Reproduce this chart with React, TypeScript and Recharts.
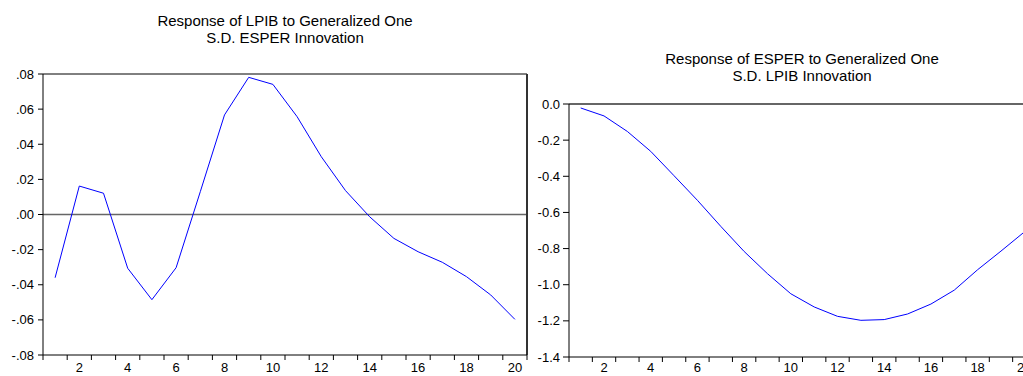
import { LineChart, Line, XAxis, YAxis, ReferenceLine } from "recharts";

// impulse response periods
const periods = [1, 2, 3, 4, 5, 6, 7, 8, 9, 10, 11, 12, 13, 14, 15, 16, 17, 18, 19, 20];

// Response of LPIB to generalized one S.D. ESPER innovation
const lpibResponse = [
  -0.036, 0.0162, 0.0121, -0.0306, -0.0485, -0.0303, 0.013, 0.0567, 0.0781, 0.0741,
  0.0557, 0.0329, 0.0136, -0.0013, -0.0136, -0.0212, -0.0272, -0.0354, -0.0458, -0.0597,
];

// Response of ESPER to generalized one S.D. LPIB innovation
const esperResponse = [
  -0.022, -0.066, -0.152, -0.262, -0.397, -0.533, -0.677, -0.816, -0.939, -1.05,
  -1.123, -1.175, -1.197, -1.193, -1.162, -1.107, -1.03, -0.917, -0.814, -0.708,
];

const leftTicks = [-0.08, -0.06, -0.04, -0.02, 0, 0.02, 0.04, 0.06, 0.08];
const rightTicks = [-1.4, -1.2, -1.0, -0.8, -0.6, -0.4, -0.2, 0];

const FONT = "'Liberation Sans', Arial, sans-serif";

const leftData = periods.map((p, i) => ({ period: p, value: lpibResponse[i] }));
const rightData = periods.map((p, i) => ({ period: p, value: esperResponse[i] }));

// tick marks between periods, labels on even periods
const xTicks = [...periods.flatMap((p) => [p - 0.5, p]), periods[periods.length - 1] + 0.5];

function PeriodTick(props: any) {
  const { x, y, payload, labelDy } = props;
  const v = payload.value;
  if (Number.isInteger(v)) {
    if (v % 2 !== 0) return <g />;
    return (
      <text x={x} y={y + labelDy} textAnchor="middle" fontSize={13} fill="#000" fontFamily={FONT}>
        {v}
      </text>
    );
  }
  return <line x1={x} x2={x} y1={y} y2={y + 5} stroke="#000" />;
}

const stripZero = (v: number) => v.toFixed(2).replace("0.", ".");

function Title({ lines, cx, top }: { lines: string[]; cx: number; top: number }) {
  return (
    <div
      style={{
        position: "absolute",
        left: cx - 200,
        top,
        width: 400,
        textAlign: "center",
        fontFamily: FONT,
        fontSize: 15,
        lineHeight: "17px",
        color: "#000",
      }}
    >
      {lines.map((l) => (
        <div key={l}>{l}</div>
      ))}
    </div>
  );
}

export default function App() {
  return (
    <div
      style={{
        position: "absolute",
        left: 0,
        top: 0,
        width: 1023,
        height: 376,
        overflow: "hidden",
        background: "#fff",
      }}
    >
      <Title lines={["Response of LPIB to Generalized One", "S.D. ESPER Innovation"]} cx={285} top={12} />
      <Title lines={["Response of ESPER to Generalized One", "S.D. LPIB Innovation"]} cx={802} top={50} />

      <div style={{ position: "absolute", left: 0, top: 0 }}>
        <LineChart width={528} height={376} data={leftData} margin={{ top: 74, right: 1, bottom: 0, left: 0 }}>
          <XAxis
            dataKey="period"
            type="number"
            domain={[0.5, 20.5]}
            ticks={xTicks}
            interval={0}
            tickLine={false}
            tickSize={0}
            tickMargin={0}
            tick={<PeriodTick labelDy={17} />}
            height={21}
            axisLine={{ stroke: "#000" }}
          />
          <YAxis
            type="number"
            domain={[-0.08, 0.08]}
            ticks={leftTicks}
            interval={0}
            tickFormatter={stripZero}
            width={43}
            tickSize={5}
            tickMargin={4}
            axisLine={{ stroke: "#000" }}
            tickLine={{ stroke: "#000" }}
            tick={{ fontSize: 13, fill: "#000", fontFamily: FONT }}
          />
          <ReferenceLine y={0} stroke="#666" strokeWidth={1.5} />
          <ReferenceLine y={0.08} stroke="#000" />
          <ReferenceLine x={20.5} stroke="#333" strokeWidth={2} />
          <Line
            type="linear"
            dataKey="value"
            stroke="#0000ff"
            strokeWidth={1}
            dot={false}
            isAnimationActive={false}
          />
        </LineChart>
      </div>

      <div style={{ position: "absolute", left: 528, top: 0 }}>
        <LineChart width={508} height={376} data={rightData} margin={{ top: 104, right: 0, bottom: 0, left: 0 }}>
          <XAxis
            dataKey="period"
            type="number"
            domain={[0.5, 20.5]}
            ticks={xTicks}
            interval={0}
            tickLine={false}
            tickSize={0}
            tickMargin={0}
            tick={<PeriodTick labelDy={15} />}
            height={19}
            axisLine={{ stroke: "#000" }}
          />
          <YAxis
            type="number"
            domain={[-1.4, 0]}
            ticks={rightTicks}
            interval={0}
            tickFormatter={(v: number) => v.toFixed(1)}
            width={41}
            tickSize={6}
            tickMargin={3}
            axisLine={{ stroke: "#000" }}
            tickLine={{ stroke: "#000" }}
            tick={{ fontSize: 13, fill: "#000", fontFamily: FONT }}
          />
          <ReferenceLine y={0} stroke="#333" strokeWidth={1.5} />
          <Line
            type="linear"
            dataKey="value"
            stroke="#0000ff"
            strokeWidth={1}
            dot={false}
            isAnimationActive={false}
          />
        </LineChart>
      </div>
    </div>
  );
}
